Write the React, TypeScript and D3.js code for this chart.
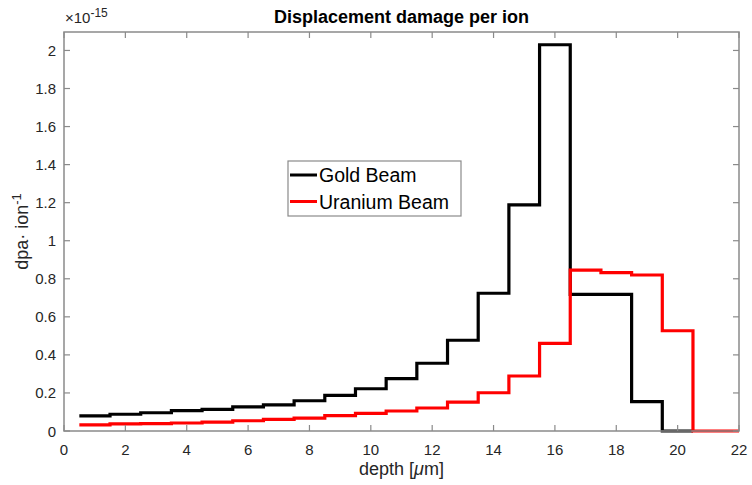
import React from "react";
import * as d3 from "d3";

// Bin start positions (depth, µm)
const goldBinStarts = [0.5, 1.5, 2.5, 3.5, 4.5, 5.5, 6.5, 7.5, 8.5, 9.5, 10.5, 11.5, 12.5, 13.5, 14.5, 15.5, 16.5, 17.5, 18.5, 19.5];
const goldBinEnd = 20.5;
// dpa per ion, in units of 1e-15
const goldValues = [0.079, 0.088, 0.096, 0.107, 0.114, 0.127, 0.137, 0.159, 0.187, 0.222, 0.275, 0.356, 0.477, 0.724, 1.188, 2.03, 0.718, 0.718, 0.154, 0];

const uraniumBinStarts = [0.5, 1.5, 2.5, 3.5, 4.5, 5.5, 6.5, 7.5, 8.5, 9.5, 10.5, 11.5, 12.5, 13.5, 14.5, 15.5, 16.5, 17.5, 18.5, 19.5, 20.5];
const uraniumBinEnd = 22;
const uraniumValues = [0.032, 0.037, 0.039, 0.042, 0.047, 0.054, 0.061, 0.068, 0.081, 0.093, 0.105, 0.121, 0.152, 0.201, 0.289, 0.461, 0.846, 0.832, 0.82, 0.527, 0];

const xTicks = [0, 2, 4, 6, 8, 10, 12, 14, 16, 18, 20, 22];
const yTicks = [0, 0.2, 0.4, 0.6, 0.8, 1, 1.2, 1.4, 1.6, 1.8, 2];

const seriesNames = ["Gold Beam", "Uranium Beam"];
const seriesColors = ["#000000", "#ff0000"];

const W = 752, H = 485;
const M = { left: 64, right: 739, top: 32, bottom: 431 };
const FONT = "'Liberation Sans', Arial, Helvetica, sans-serif";

export default function App() {
  const x = d3.scaleLinear().domain([0, 22]).range([M.left, M.right]);
  const y = d3.scaleLinear().domain([0, 2.097]).range([M.bottom, M.top]);

  const line = d3
    .line<[number, number]>()
    .x((d) => x(d[0]))
    .y((d) => y(d[1]))
    .curve(d3.curveStepAfter);

  const mk = (starts: number[], vals: number[], end: number): [number, number][] => {
    const pts: [number, number][] = starts.map((s, i) => [s, vals[i]]);
    pts.push([end, vals[vals.length - 1]]);
    return pts;
  };
  const series = [
    mk(goldBinStarts, goldValues, goldBinEnd),
    mk(uraniumBinStarts, uraniumValues, uraniumBinEnd),
  ];

  const axisColor = "#8a8a8a";
  const textColor = "#262626";
  const tickLen = 6;

  return (
    <svg width={W} height={H} style={{ position: "absolute", left: 0, top: 0, background: "#fff" }} fontFamily={FONT}>
      <rect x={0} y={0} width={W} height={H} fill="#fff" />
      <defs>
        <clipPath id="clip">
          <rect x={M.left - 2} y={M.top - 2} width={M.right - M.left + 4} height={M.bottom - M.top + 4} />
        </clipPath>
      </defs>
      {/* data */}
      <g clipPath="url(#clip)">
        {series.map((pts, i) => (
          <path key={i} d={line(pts) || ""} fill="none" stroke={seriesColors[i]} strokeWidth={3.2} strokeLinejoin="miter" />
        ))}
      </g>
      {/* axes box */}
      <rect x={M.left} y={M.top} width={M.right - M.left} height={M.bottom - M.top} fill="none" stroke={axisColor} strokeWidth={1.5} />
      {xTicks.map((t) => (
        <g key={"x" + t}>
          <line x1={x(t)} x2={x(t)} y1={M.bottom} y2={M.bottom - tickLen} stroke={axisColor} strokeWidth={1.2} />
          <line x1={x(t)} x2={x(t)} y1={M.top} y2={M.top + tickLen} stroke={axisColor} strokeWidth={1.2} />
          <text x={x(t)} y={M.bottom + 24} textAnchor="middle" fontSize={15} fill={textColor}>
            {t}
          </text>
        </g>
      ))}
      {yTicks.map((t) => (
        <g key={"y" + t}>
          <line x1={M.left} x2={M.left + tickLen} y1={y(t)} y2={y(t)} stroke={axisColor} strokeWidth={1.2} />
          <line x1={M.right} x2={M.right - tickLen} y1={y(t)} y2={y(t)} stroke={axisColor} strokeWidth={1.2} />
          <text x={M.left - 8} y={y(t) + 5.5} textAnchor="end" fontSize={15} fill={textColor}>
            {d3.format("~g")(t)}
          </text>
        </g>
      ))}
      {/* exponent */}
      <text x={M.left + 1} y={23} fontSize={15} fill={textColor}>
        ×10
        <tspan dy={-6} fontSize={12}>-15</tspan>
      </text>
      {/* title */}
      <text x={(M.left + M.right) / 2} y={23} textAnchor="middle" fontSize={18} fontWeight="bold" fill="#000">
        Displacement damage per ion
      </text>
      {/* x label */}
      <text x={(M.left + M.right) / 2} y={475} textAnchor="middle" fontSize={18} fill={textColor}>
        depth [<tspan fontStyle="italic">μ</tspan>m]
      </text>
      {/* y label */}
      <text transform={`translate(28, ${(M.top + M.bottom) / 2}) rotate(-90)`} textAnchor="middle" fontSize={18} fill={textColor}>
        dpa· ion
        <tspan dy={-7} fontSize={13}>-1</tspan>
      </text>
      {/* legend */}
      <g>
        <rect x={288} y={161} width={173} height={55} fill="#fff" stroke={axisColor} strokeWidth={1.2} />
        {seriesNames.map((n, i) => (
          <g key={n}>
            <line x1={290} x2={317} y1={175 + i * 26.5} y2={175 + i * 26.5} stroke={seriesColors[i]} strokeWidth={3} />
            <text x={319} y={182 + i * 26.5} fontSize={19.5} fill="#000">
              {n}
            </text>
          </g>
        ))}
      </g>
    </svg>
  );
}
